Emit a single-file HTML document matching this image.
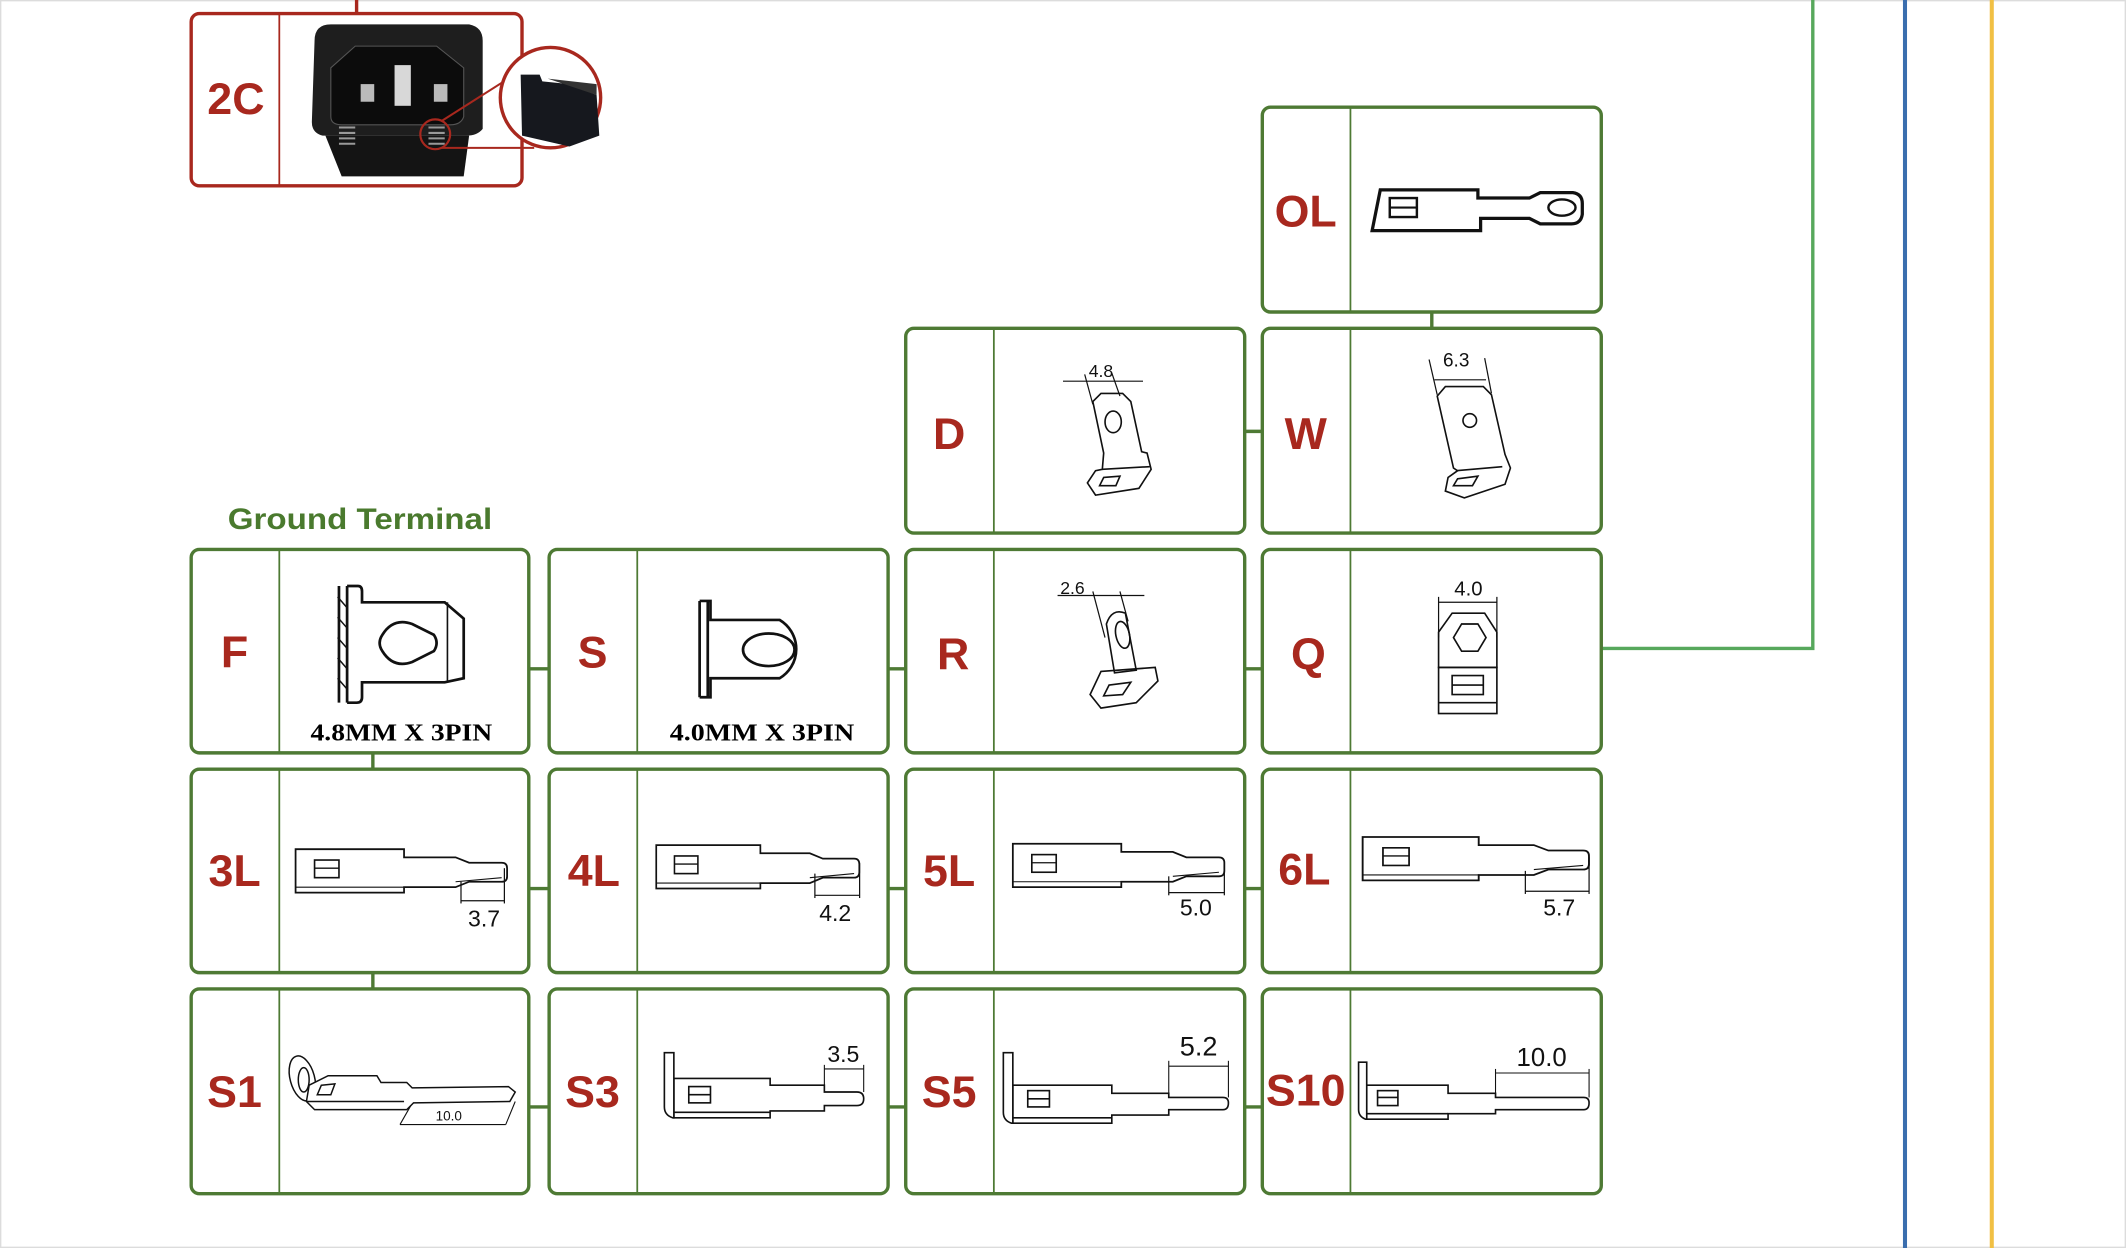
<!DOCTYPE html>
<html><head><meta charset="utf-8"><style>
html,body{margin:0;padding:0;background:#fff;}
svg{display:block;}
</style></head><body>
<svg width="2126" height="1248" viewBox="0 0 1568 920" preserveAspectRatio="none" xmlns="http://www.w3.org/2000/svg">
<rect x="0.5" y="0.5" width="1567" height="919" fill="#fff" stroke="#dcdcdc" stroke-width="1"/>
<defs>
<g id="lt">
<path d="M0,0 H80 V6 H118 L128,10 H152 Q156,10 156,14 V20 Q156,24 152,24 H128 L118,28 H80 V32 H0 Z" fill="#fff" stroke="#111" stroke-width="1.3"/>
<line x1="0" y1="28" x2="80" y2="28" stroke="#111" stroke-width="0.8"/>
<line x1="118" y1="24" x2="152" y2="21" stroke="#111" stroke-width="0.8"/>
<rect x="14" y="8" width="18" height="13" fill="none" stroke="#111" stroke-width="1.2"/>
<line x1="14" y1="14" x2="32" y2="14" stroke="#111" stroke-width="1"/>
</g>
</defs>

<!-- right lines -->
<line x1="1405" y1="0" x2="1405" y2="920" stroke="#3a6eae" stroke-width="3"/>
<line x1="1469" y1="0" x2="1469" y2="920" stroke="#f1c044" stroke-width="3"/>
<polyline points="1181,478 1337,478 1337,0" fill="none" stroke="#57a85c" stroke-width="2.5"/>

<!-- connectors -->
<g stroke="#4e7a34" stroke-width="2.5">
<line x1="1056" y1="230" x2="1056" y2="242"/>
<line x1="918" y1="318" x2="931" y2="318"/>
<line x1="390" y1="493" x2="405" y2="493"/><line x1="655" y1="493" x2="668" y2="493"/><line x1="918" y1="493" x2="931" y2="493"/>
<line x1="390" y1="655" x2="405" y2="655"/><line x1="655" y1="655" x2="668" y2="655"/><line x1="918" y1="655" x2="931" y2="655"/>
<line x1="390" y1="816" x2="405" y2="816"/><line x1="655" y1="816" x2="668" y2="816"/><line x1="918" y1="816" x2="931" y2="816"/>
<line x1="275" y1="555" x2="275" y2="567"/><line x1="275" y1="717" x2="275" y2="729"/>
</g>
<line x1="263" y1="0" x2="263" y2="10" stroke="#a8281e" stroke-width="2.5"/>

<!-- boxes -->
<g fill="none" stroke="#4e7a34" stroke-width="2.5">
<rect x="931" y="79" width="250" height="151" rx="6"/><line x1="996" y1="79" x2="996" y2="230" stroke-width="1.3"/>
<rect x="668" y="242" width="250" height="151" rx="6"/><line x1="733" y1="242" x2="733" y2="393" stroke-width="1.3"/>
<rect x="931" y="242" width="250" height="151" rx="6"/><line x1="996" y1="242" x2="996" y2="393" stroke-width="1.3"/>
<rect x="141" y="405" width="249" height="150" rx="6"/><line x1="206" y1="405" x2="206" y2="555" stroke-width="1.3"/>
<rect x="405" y="405" width="250" height="150" rx="6"/><line x1="470" y1="405" x2="470" y2="555" stroke-width="1.3"/>
<rect x="668" y="405" width="250" height="150" rx="6"/><line x1="733" y1="405" x2="733" y2="555" stroke-width="1.3"/>
<rect x="931" y="405" width="250" height="150" rx="6"/><line x1="996" y1="405" x2="996" y2="555" stroke-width="1.3"/>
<rect x="141" y="567" width="249" height="150" rx="6"/><line x1="206" y1="567" x2="206" y2="717" stroke-width="1.3"/>
<rect x="405" y="567" width="250" height="150" rx="6"/><line x1="470" y1="567" x2="470" y2="717" stroke-width="1.3"/>
<rect x="668" y="567" width="250" height="150" rx="6"/><line x1="733" y1="567" x2="733" y2="717" stroke-width="1.3"/>
<rect x="931" y="567" width="250" height="150" rx="6"/><line x1="996" y1="567" x2="996" y2="717" stroke-width="1.3"/>
<rect x="141" y="729" width="249" height="151" rx="6"/><line x1="206" y1="729" x2="206" y2="880" stroke-width="1.3"/>
<rect x="405" y="729" width="250" height="151" rx="6"/><line x1="470" y1="729" x2="470" y2="880" stroke-width="1.3"/>
<rect x="668" y="729" width="250" height="151" rx="6"/><line x1="733" y1="729" x2="733" y2="880" stroke-width="1.3"/>
<rect x="931" y="729" width="250" height="151" rx="6"/><line x1="996" y1="729" x2="996" y2="880" stroke-width="1.3"/>
</g>
<rect x="141" y="10" width="244" height="127" rx="6" fill="none" stroke="#a8281e" stroke-width="2.5"/>
<line x1="206" y1="10" x2="206" y2="137" stroke="#a8281e" stroke-width="1.3"/>

<!-- labels -->
<g font-family="Liberation Sans, sans-serif" font-weight="bold" font-size="33" fill="#a8281e" text-anchor="middle">
<text x="174" y="84">2C</text>
<text x="963" y="167">OL</text>
<text x="700" y="331">D</text><text x="963" y="331">W</text>
<text x="173" y="492">F</text><text x="437" y="492">S</text><text x="703" y="493">R</text><text x="965" y="493">Q</text>
<text x="173" y="653">3L</text><text x="438" y="653">4L</text><text x="700" y="653">5L</text><text x="962" y="652">6L</text>
<text x="173" y="816">S1</text><text x="437" y="816">S3</text><text x="700" y="816">S5</text><text x="963" y="815">S10</text>
</g>
<text x="168" y="390" font-family="Liberation Sans, sans-serif" font-weight="bold" font-size="22" fill="#4a7a2e" textLength="195" lengthAdjust="spacingAndGlyphs">Ground Terminal</text>
<g font-family="Liberation Serif, serif" font-weight="bold" font-size="18" fill="#000">
<text x="229" y="546" textLength="134" lengthAdjust="spacingAndGlyphs">4.8MM X 3PIN</text>
<text x="494" y="546" textLength="136" lengthAdjust="spacingAndGlyphs">4.0MM X 3PIN</text>
</g>

<!-- 2C image -->
<g>
<path d="M232,30 Q232,18 244,18 L346,18 Q356,20 356,30 L356,95 Q352,100 344,100 L238,100 Q230,98 230,90 Z" fill="#1e1e1e"/>
<path d="M244,50 L262,34 L322,34 L342,50 L342,86 Q340,92 332,92 L252,92 Q244,92 244,86 Z" fill="#0c0c0c" stroke="#555" stroke-width="0.8"/>
<rect x="291" y="48" width="12" height="30" fill="#d8d8d8"/>
<rect x="266" y="62" width="10" height="13" fill="#bbb"/><rect x="320" y="62" width="10" height="13" fill="#bbb"/>
<path d="M240,100 L346,100 L342,130 L252,130 Z" fill="#141414"/>
<g stroke="#999" stroke-width="1.5"><line x1="250" y1="94" x2="262" y2="94"/><line x1="250" y1="98" x2="262" y2="98"/><line x1="250" y1="102" x2="262" y2="102"/><line x1="250" y1="106" x2="262" y2="106"/>
<line x1="316" y1="94" x2="328" y2="94"/><line x1="316" y1="98" x2="328" y2="98"/><line x1="316" y1="102" x2="328" y2="102"/><line x1="316" y1="106" x2="328" y2="106"/></g>
<circle cx="321" cy="99" r="11" fill="none" stroke="#a8281e" stroke-width="1.6"/>
<line x1="326" y1="89" x2="378" y2="56" stroke="#a8281e" stroke-width="1.5"/>
<line x1="326" y1="109" x2="394" y2="109" stroke="#a8281e" stroke-width="1.5"/>
<circle cx="406" cy="72" r="37" fill="#fff" stroke="#a8281e" stroke-width="2.5"/>
<path d="M384,55 L398,55 L400,60 L420,62 L440,70 L442,100 L420,108 L385,100 Z" fill="#16181e"/>
<path d="M404,58 L440,62 L440,70 Z" fill="#333"/>
</g>

<!-- OL -->
<g fill="none" stroke="#111" stroke-width="2.4">
<path d="M1018,140 H1090 V146 H1128 L1136,142 H1160 Q1167,143 1167,150 V158 Q1166,165 1159,165 H1136 L1128,161 H1092 V170 H1012 Z"/>
<rect x="1025" y="146" width="20" height="14" stroke-width="1.8"/>
<line x1="1025" y1="153" x2="1045" y2="153" stroke-width="1.5"/>
<ellipse cx="1152" cy="153" rx="10" ry="6" stroke-width="1.8"/>
</g>

<!-- D -->
<g fill="none" stroke="#111" stroke-width="1.2">
<line x1="784" y1="281" x2="843" y2="281" stroke-width="0.9"/>
<line x1="800" y1="276" x2="806" y2="298" stroke-width="0.9"/><line x1="820" y1="275" x2="826" y2="292" stroke-width="0.9"/>
<path d="M806,296 L812,290 L828,290 L834,296 L842,333 L846,334 L849,346 L840,360 L808,365 L802,356 L808,347 L813,346 L814,334 Z"/>
<line x1="813" y1="346" x2="848" y2="344"/>
<ellipse cx="821" cy="311" rx="6" ry="8"/>
<path d="M814,352 L826,351 L823,358 L811,358 Z"/>
</g>
<text x="812" y="278" font-family="Liberation Sans, sans-serif" font-size="13" text-anchor="middle" fill="#111">4.8</text>

<!-- W -->
<g fill="none" stroke="#111" stroke-width="1.2">
<line x1="1058" y1="280" x2="1096" y2="280" stroke-width="0.9"/>
<line x1="1054" y1="265" x2="1060" y2="291" stroke-width="0.9"/><line x1="1095" y1="264" x2="1100" y2="290" stroke-width="0.9"/>
<path d="M1060,292 L1066,285 L1094,285 L1100,291 L1110,335 L1114,345 L1110,357 L1080,367 L1066,362 L1068,352 L1075,347 L1072,345 Z"/>
<line x1="1074" y1="347" x2="1108" y2="344"/>
<circle cx="1084" cy="310" r="5"/>
<path d="M1075,353 L1090,351 L1086,358 L1072,358 Z"/>
</g>
<text x="1074" y="270" font-family="Liberation Sans, sans-serif" font-size="14" text-anchor="middle" fill="#111">6.3</text>

<!-- R -->
<g fill="none" stroke="#111" stroke-width="1.2">
<line x1="780" y1="439" x2="844" y2="439" stroke-width="0.9"/>
<line x1="806" y1="436" x2="815" y2="470" stroke-width="0.9"/><line x1="826" y1="436" x2="832" y2="458" stroke-width="0.9"/>
<path d="M816,460 Q820,448 830,452 L838,494 L822,496 Z"/>
<ellipse cx="828" cy="468" rx="5" ry="10" transform="rotate(-12 828 468)"/>
<path d="M812,495 L852,492 L854,502 L838,518 L812,522 L804,512 Z"/>
<path d="M818,505 L834,503 L828,512 L814,513 Z"/>
</g>
<text x="791" y="438" font-family="Liberation Sans, sans-serif" font-size="13" text-anchor="middle" fill="#111">2.6</text>

<!-- Q -->
<g fill="none" stroke="#111" stroke-width="1.2">
<line x1="1061" y1="444" x2="1104" y2="444" stroke-width="0.9"/>
<line x1="1061" y1="440" x2="1061" y2="470" stroke-width="0.9"/><line x1="1104" y1="440" x2="1104" y2="470" stroke-width="0.9"/>
<path d="M1061,466 L1071,452 L1095,452 L1104,466 L1104,492 L1061,492 Z"/>
<path d="M1072,470 L1078,460 L1090,460 L1096,470 L1090,480 L1078,480 Z"/>
<rect x="1061" y="492" width="43" height="34"/>
<rect x="1071" y="498" width="23" height="14"/><line x1="1071" y1="505" x2="1094" y2="505"/>
<line x1="1061" y1="518" x2="1104" y2="518"/>
</g>
<text x="1083" y="439" font-family="Liberation Sans, sans-serif" font-size="15" text-anchor="middle" fill="#111">4.0</text>

<!-- F -->
<g fill="none" stroke="#111" stroke-width="2">
<line x1="250" y1="432" x2="250" y2="518"/><line x1="256" y1="432" x2="256" y2="518"/>
<path d="M256,432 H264 Q267,432 267,436 V444 H328 L342,456 V500 L328,503 H267 V514 Q267,518 263,518 H256"/>
<line x1="330" y1="444" x2="330" y2="503" stroke-width="1.2"/>
<path d="M282,468 Q290,455 304,460 L320,468 Q324,474 320,480 L304,488 Q290,493 282,480 Q278,474 282,468 Z"/>
<g stroke-width="1.1"><line x1="249" y1="440" x2="256" y2="448"/><line x1="249" y1="455" x2="256" y2="463"/><line x1="249" y1="470" x2="256" y2="478"/><line x1="249" y1="485" x2="256" y2="493"/><line x1="249" y1="500" x2="256" y2="508"/></g>
</g>

<!-- S -->
<g fill="none" stroke="#111" stroke-width="2">
<line x1="516" y1="443" x2="516" y2="514"/><line x1="522" y1="443" x2="522" y2="514"/>
<path d="M516,443 H524 V457 H575 A25,25 0 0 1 575,500 H524 V514 H516"/>
<ellipse cx="567" cy="479" rx="19" ry="12"/>
</g>

<!-- long terminals -->
<use href="#lt" transform="translate(218,626)"/>
<use href="#lt" transform="translate(484,623) scale(0.96,1)"/>
<use href="#lt" transform="translate(747,622) scale(1,1)"/>
<use href="#lt" transform="translate(1005,617) scale(1.07,1)"/>
<g stroke="#111" stroke-width="0.9">
<line x1="340" y1="650" x2="340" y2="666"/><line x1="372" y1="640" x2="372" y2="666"/><line x1="340" y1="664" x2="372" y2="664"/>
<line x1="601" y1="644" x2="601" y2="662"/><line x1="634" y1="636" x2="634" y2="662"/><line x1="601" y1="660" x2="634" y2="660"/>
<line x1="862" y1="646" x2="862" y2="660"/><line x1="903" y1="636" x2="903" y2="660"/><line x1="862" y1="658" x2="903" y2="658"/>
<line x1="1125" y1="642" x2="1125" y2="659"/><line x1="1172" y1="632" x2="1172" y2="659"/><line x1="1125" y1="657" x2="1172" y2="657"/>
</g>
<g font-family="Liberation Sans, sans-serif" font-size="17" fill="#111" text-anchor="middle">
<text x="357" y="683">3.7</text><text x="616" y="679">4.2</text><text x="882" y="675">5.0</text><text x="1150" y="675">5.7</text>
<text x="622" y="783">3.5</text><text x="884" y="778" font-size="20">5.2</text><text x="1137" y="786" font-size="19">10.0</text>
</g>

<!-- S3 -->
<g fill="#fff" stroke="#111" stroke-width="1.2">
<path d="M497,795 H568 V800 H608 V805 H632 Q637,805 637,810 Q637,815 632,815 H608 V819 H568 V824 H497 Z"/>
<path d="M490,776 H497 V824 H496 Q490,822 490,816 Z"/>
<line x1="497" y1="820" x2="568" y2="820"/>
<rect x="508" y="801" width="16" height="12" fill="none"/><line x1="508" y1="807" x2="524" y2="807"/>
<line x1="608" y1="785" x2="608" y2="800" stroke-width="0.8"/><line x1="637" y1="785" x2="637" y2="805" stroke-width="0.8"/><line x1="608" y1="788" x2="637" y2="788" stroke-width="0.8"/>
</g>
<!-- S5 -->
<g fill="#fff" stroke="#111" stroke-width="1.2">
<path d="M747,800 H820 V806 H862 V809 H902 Q906,809 906,813 Q906,818 902,818 H862 V822 H820 V828 H747 Z"/>
<path d="M740,776 H747 V828 H746 Q740,826 740,820 Z"/>
<line x1="747" y1="824" x2="820" y2="824"/>
<rect x="758" y="804" width="16" height="12" fill="none"/><line x1="758" y1="810" x2="774" y2="810"/>
<line x1="862" y1="782" x2="862" y2="806" stroke-width="0.8"/><line x1="906" y1="782" x2="906" y2="809" stroke-width="0.8"/><line x1="862" y1="786" x2="906" y2="786" stroke-width="0.8"/>
</g>
<!-- S10 -->
<g fill="#fff" stroke="#111" stroke-width="1.2">
<path d="M1008,800 H1068 V806 H1103 V809 H1168 Q1172,809 1172,813 Q1172,818 1168,818 H1103 V821 H1068 V825 H1008 Z"/>
<path d="M1002,783 H1008 V825 H1007 Q1002,823 1002,818 Z"/>
<line x1="1008" y1="821" x2="1068" y2="821"/>
<rect x="1016" y="804" width="15" height="11" fill="none"/><line x1="1016" y1="809" x2="1031" y2="809"/>
<line x1="1103" y1="788" x2="1103" y2="809" stroke-width="0.8"/><line x1="1172" y1="788" x2="1172" y2="809" stroke-width="0.8"/><line x1="1103" y1="791" x2="1172" y2="791" stroke-width="0.8"/>
</g>
<!-- S1 -->
<g fill="#fff" stroke="#111" stroke-width="1.1">
<ellipse cx="223" cy="795" rx="9" ry="17" transform="rotate(-15 223 795)"/>
<ellipse cx="224" cy="796" rx="4" ry="9" fill="none"/>
<path d="M228,800 L242,793 L278,793 L281,798 L300,798 L304,802 L375,801 L380,805 L376,812 L305,813 L300,818 L250,818 L232,818 L226,812 Z"/>
<path d="M237,800 L247,799 L244,807 L234,807 Z" fill="none"/>
<line x1="226" y1="812" x2="298" y2="812"/>
<line x1="295" y1="829" x2="373" y2="829" stroke-width="0.8"/><line x1="295" y1="829" x2="303" y2="815" stroke-width="0.8"/><line x1="373" y1="829" x2="380" y2="812" stroke-width="0.8"/>
</g>
<text x="331" y="826" font-family="Liberation Sans, sans-serif" font-size="10" fill="#111" text-anchor="middle">10.0</text>
</svg>
</body></html>
